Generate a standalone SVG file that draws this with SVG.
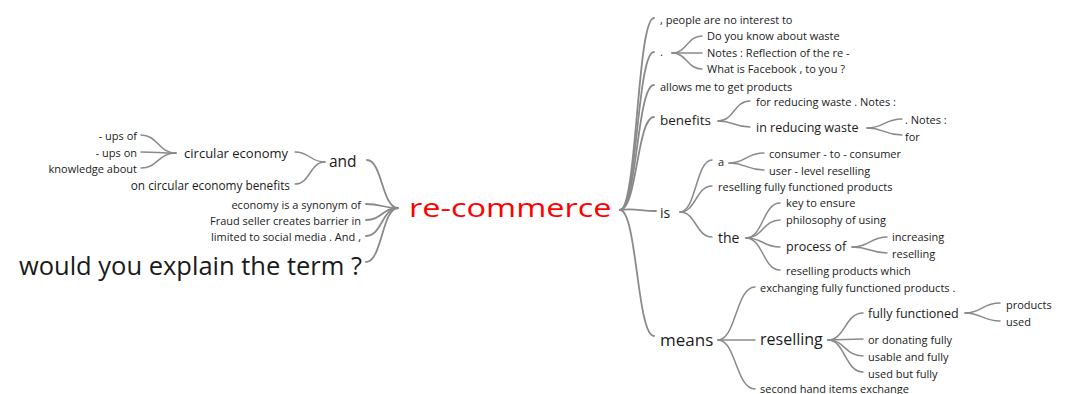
<svg xmlns="http://www.w3.org/2000/svg" width="1065" height="394" viewBox="0 0 1065 394">
<style>
text{font-family:"Open Sans","Noto Sans","Liberation Sans",sans-serif;fill:#1a1a1a}
.s{font-size:11px}
.m{font-size:12.5px}
.l{font-size:14px}
.e{text-anchor:end}
.c path{fill:none;stroke:#8a8a8a;stroke-width:1.5;stroke-linecap:round}
.c path.r{stroke-width:1.8}
</style>
<rect width="1065" height="394" fill="#fff"/>
<g class="c" id="connectors">
<path class="r" d="M620,210 C637,210 637,18 654,18"/>
<path class="r" d="M620,210 C637,210 637,52 654,52"/>
<path class="r" d="M620,210 C637,210 637,85 654,85"/>
<path class="r" d="M620,210 C637,210 637,117 654,117"/>
<path class="r" d="M620,210 C635,208 640,211 656,211"/>
<path class="r" d="M620,210 C637,210 637,336 654,336"/>
<path d="M672,53 C687,53 687,36 702,36"/>
<path d="M672,53 C687,53 687,53 702,53"/>
<path d="M672,53 C687,53 687,69 702,69"/>
<path d="M718,121 C734,121 734,101 750,101"/>
<path d="M718,121 C734,121 734,127 750,127"/>
<path d="M867,128 C884,128 884,119 902,119"/>
<path d="M867,128 C884,128 884,135 902,135"/>
<path d="M680,212 C696,212 696,160 712,160"/>
<path d="M680,212 C696,212 696,186 712,186"/>
<path d="M680,212 C696,212 696,237 712,237"/>
<path d="M729,163 C746,163 746,153 764,153"/>
<path d="M729,163 C746,163 746,170 764,170"/>
<path d="M746,238 C763,238 763,203 780,203"/>
<path d="M746,238 C763,238 763,220 780,220"/>
<path d="M746,238 C763,238 763,247 780,247"/>
<path d="M746,238 C763,238 763,270 780,270"/>
<path d="M852,247 C870,247 870,237 887,237"/>
<path d="M852,247 C870,247 870,253 887,253"/>
<path d="M718,340 C736,340 736,287 755,287"/>
<path d="M718,340 C736,340 736,340 755,340"/>
<path d="M718,340 C736,340 736,389 755,389"/>
<path d="M828,340 C845,340 845,313 863,313"/>
<path d="M828,340 C845,340 845,339 863,339"/>
<path d="M828,340 C845,340 845,356 863,356"/>
<path d="M828,340 C845,340 845,372 863,372"/>
<path d="M965,313 C982,313 982,303 1000,303"/>
<path d="M965,313 C982,313 982,321 1000,321"/>
<path class="r" d="M398,208 C382,208 382,160 367,160"/>
<path class="r" d="M398,208 C382,208 382,204 366,204"/>
<path class="r" d="M398,208 C382,208 382,220 366,220"/>
<path class="r" d="M398,208 C382,208 382,236 366,236"/>
<path class="r" d="M398,208 C382,208 382,262 366,262"/>
<path d="M325,162 C310,162 310,152 295,152"/>
<path d="M325,162 C310,162 310,184 295,184"/>
<path d="M176,153 C158,153 158,135 141,135"/>
<path d="M176,153 C158,153 158,152 141,152"/>
<path d="M176,153 C158,153 158,168 141,168"/>
</g>
<g id="root"><text transform="translate(409,217) scale(1.25,1)" x="0" y="0" font-size="26" style="fill:#ff0000">re-commerce</text></g>
<g id="n-would"><text class="e" x="362" y="275" font-size="25.5">would you explain the term ?</text></g>
<g id="n-limited"><text class="s e" x="361" y="240.5">limited to social media . And ,</text></g>
<g id="n-fraud"><text class="s e" x="361" y="224.5">Fraud seller creates barrier in</text></g>
<g id="n-economy"><text class="s e" x="361" y="208.5">economy is a synonym of</text></g>
<g id="n-and"><text x="329" y="166.5" font-size="15.5">and</text></g>
<g id="n-oncirc"><text class="e" x="290" y="190" font-size="11.8">on circular economy benefits</text></g>
<g id="n-circ"><text class="e" x="288" y="157.5" font-size="13">circular economy</text></g>
<g id="n-upsof"><text class="s e" x="137" y="140">- ups of</text></g>
<g id="n-upson"><text class="s e" x="137" y="156.5">- ups on</text></g>
<g id="n-know"><text class="s e" x="137" y="172.5">knowledge about</text></g>
<g id="n-people"><text class="s" x="660" y="23.5">, people are no interest to</text></g>
<g id="n-dot"><text class="s" x="660" y="56">.</text></g>
<g id="n-doyou"><text class="s" x="707" y="39.5">Do you know about waste</text></g>
<g id="n-notes1"><text class="s" x="707" y="56.5">Notes : Reflection of the re -</text></g>
<g id="n-whatis"><text class="s" x="707" y="73">What is Facebook , to you ?</text></g>
<g id="n-allows"><text class="s" x="660" y="90.5">allows me to get products</text></g>
<g id="n-benefits"><text x="660" y="124.5" font-size="13.5">benefits</text></g>
<g id="n-forred"><text class="s" x="756" y="105.5">for reducing waste . Notes :</text></g>
<g id="n-inred"><text class="m" x="756" y="132">in reducing waste</text></g>
<g id="n-notes2"><text class="s" x="905" y="123.5">. Notes :</text></g>
<g id="n-for"><text class="s" x="905" y="141">for</text></g>
<g id="n-is"><text class="l" x="660" y="217.5">is</text></g>
<g id="n-a"><text class="s" x="718" y="166">a</text></g>
<g id="n-resfully"><text class="s" x="718" y="190.5">reselling fully functioned products</text></g>
<g id="n-the"><text class="l" x="718" y="242.5">the</text></g>
<g id="n-c2c"><text class="s" x="769" y="157.5">consumer - to - consumer</text></g>
<g id="n-user"><text class="s" x="769" y="174.5">user - level reselling</text></g>
<g id="n-key"><text class="s" x="786" y="206.5">key to ensure</text></g>
<g id="n-philo"><text class="s" x="786" y="223.5">philosophy of using</text></g>
<g id="n-process"><text class="m" x="786" y="251">process of</text></g>
<g id="n-reswhich"><text class="s" x="786" y="274.5">reselling products which</text></g>
<g id="n-incr"><text class="s" x="892" y="240.5">increasing</text></g>
<g id="n-resel2"><text class="s" x="892" y="257.5">reselling</text></g>
<g id="n-means"><text x="660" y="345.5" font-size="17">means</text></g>
<g id="n-exch"><text class="s" x="760" y="291.5">exchanging fully functioned products .</text></g>
<g id="n-reselling"><text x="760" y="345" font-size="16">reselling</text></g>
<g id="n-second"><text class="s" x="760" y="392.5">second hand items exchange</text></g>
<g id="n-fullyf"><text class="m" x="868" y="318">fully functioned</text></g>
<g id="n-ordon"><text class="s" x="868" y="343.5">or donating fully</text></g>
<g id="n-usable"><text class="s" x="868" y="360.5">usable and fully</text></g>
<g id="n-usedbut"><text class="s" x="868" y="377.5">used but fully</text></g>
<g id="n-products"><text class="s" x="1006" y="308.5">products</text></g>
<g id="n-used"><text class="s" x="1006" y="325.5">used</text></g>
</svg>
